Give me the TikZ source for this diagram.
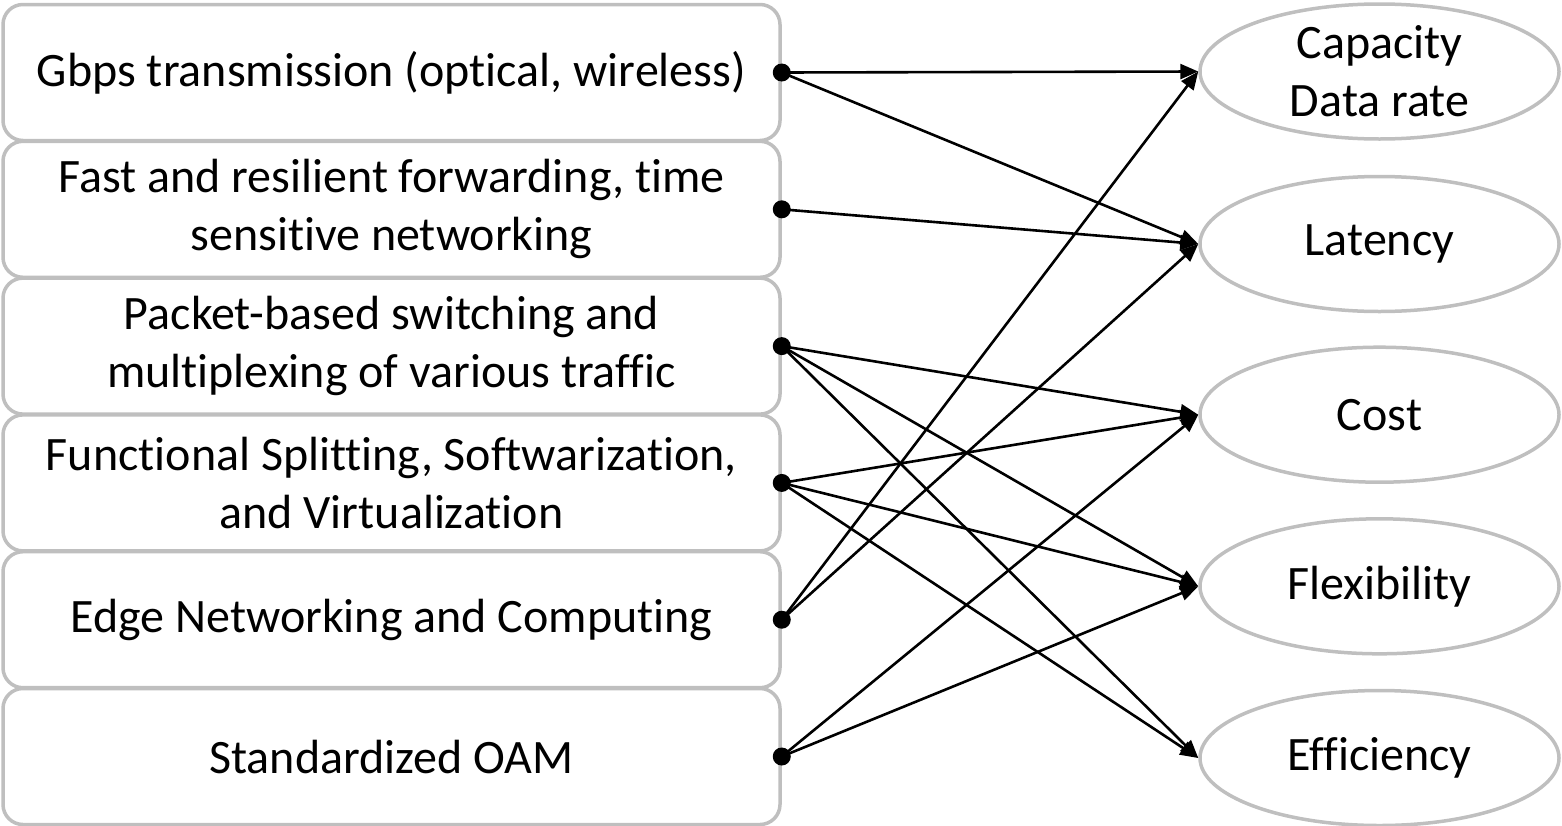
\documentclass[tikz,border=0pt]{standalone}
\usepackage{fontspec}
\setmainfont{Carlito}[Ligatures=NoCommon]
\usetikzlibrary{shapes.geometric,arrows.meta}
\definecolor{bordergray}{RGB}{191,191,191}
\newcommand\tiX{t\kern0pt i}
\tikzset{
  leftbox/.style={draw=bordergray, line width=3.5pt, rounded corners=20pt, rectangle,
    minimum width=777pt, minimum height=136pt, inner sep=0pt, align=center,
    font=\fontsize{48pt}{58pt}\selectfont},
  goal/.style={draw=bordergray, line width=3.5pt, ellipse,
    minimum width=359pt, minimum height=135pt, inner sep=0pt, align=center,
    font=\fontsize{48pt}{58pt}\selectfont},
  conn/.style={line width=2.6pt, -{Triangle[length=18pt,width=15pt]}},
  dotmark/.style={circle, fill=black, minimum size=18pt, inner sep=0pt}
}
\begin{document}
\begin{tikzpicture}[x=1pt,y=-1pt]
\useasboundingbox (0,0) rectangle (1562,825);
\node[leftbox] (b1) at (391.5,72.5) {Gbps transmission (op\tiX cal, wireless)};
\node[leftbox] (b2) at (391.5,209.3) {Fast and resilient forwarding, \tiX me\\sensi\tiX ve networking};
\node[leftbox] (b3) at (391.5,346.1) {Packet-based switching and\\multiplexing of various traffic};
\node[leftbox] (b4) at (391.5,482.9) {Functional Split\tiX ng, Softwariza\tiX on,\\and Virtualiza\tiX on};
\node[leftbox] (b5) at (391.5,619.7) {Edge Networking and Compu\tiX ng};
\node[leftbox] (b6) at (391.5,756.5) {Standardized OAM};

\node[goal] (e1) at (1379.5,71.5) {Capacity\\Data rate};
\node[goal] (e2) at (1379.5,244) {Latency};
\node[goal] (e3) at (1379.5,414.7) {Cost};
\node[goal] (e4) at (1379.5,586.3) {Flexibility};
\node[goal] (e5) at (1379.5,758) {Efficiency};

\draw[conn] (b1.east) -- (e1.west);
\draw[conn] (b1.east) -- (e2.west);
\draw[conn] (b2.east) -- (e2.west);
\draw[conn] (b3.east) -- (e3.west);
\draw[conn] (b3.east) -- (e4.west);
\draw[conn] (b3.east) -- (e5.west);
\draw[conn] (b4.east) -- (e3.west);
\draw[conn] (b4.east) -- (e4.west);
\draw[conn] (b4.east) -- (e5.west);
\draw[conn] (b5.east) -- (e1.west);
\draw[conn] (b5.east) -- (e2.west);
\draw[conn] (b6.east) -- (e3.west);
\draw[conn] (b6.east) -- (e4.west);

\foreach \b in {b1,b2,b3,b4,b5,b6} {
  \node[dotmark] (d\b) at (\b.east) {};
}
\end{tikzpicture}
\end{document}
